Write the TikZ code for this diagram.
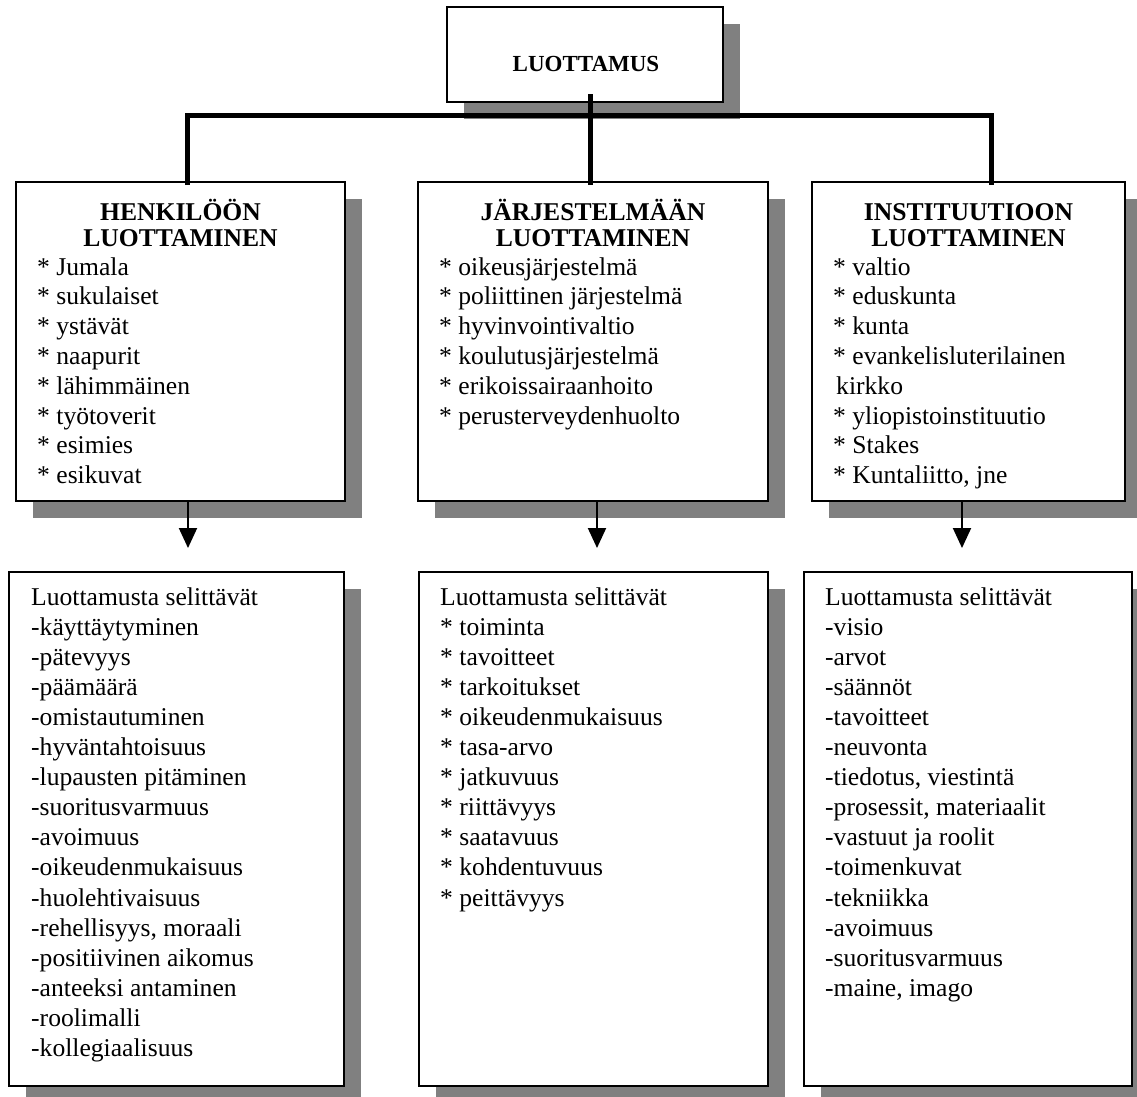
\documentclass[tikz,border=0pt]{standalone}
\usepackage{fontspec}
\setmainfont{Liberation Serif}
\usetikzlibrary{shadows,arrows.meta}
\definecolor{shadowgray}{RGB}{128,128,128}
\newcommand{\bodyfont}{\fontsize{25.6pt}{29.8pt}\selectfont}
\newcommand{\headfont}{\fontsize{25.6pt}{26pt}\selectfont\bfseries}
\newcommand{\lines}[1]{\begin{tabular}[t]{@{}l@{}}#1\end{tabular}}
\newcommand{\headlines}[1]{\begin{tabular}[t]{@{}c@{}}#1\end{tabular}}
% bullet star at the start of a list line
\newcommand{\st}{{*}\ }
\begin{document}
\begin{tikzpicture}[x=1pt,y=-1pt,
  panel/.style={draw=black, line width=2pt, fill=white, inner sep=0pt, outer sep=0pt,
    anchor=north west,
    drop shadow={shadow xshift=17pt, shadow yshift=-17pt, fill=shadowgray, opacity=1}},
  bar/.style={draw=black, line width=5pt},
  arrowline/.style={draw=black, line width=2pt, -{Triangle[length=20pt,width=18pt]}},
  heading/.style={anchor=base, inner sep=0pt, font=\headfont},
  items/.style={anchor=base west, inner sep=0pt, font=\bodyfont},
  factors/.style={items, font=\fontsize{25.6pt}{30.1pt}\selectfont},
]
\useasboundingbox (0,0) rectangle (1137,1096);

% top box
\node[panel, minimum width=276pt, minimum height=95pt] (top) at (447,7) {};
\node[anchor=base, inner sep=0pt, font=\fontsize{23pt}{27pt}\selectfont\bfseries] (toplabel) at (586,71) {LUOTTAMUS};

% three trust categories
\node[panel, minimum width=329pt, minimum height=319pt] (b1) at (16,182) {};
\node[panel, minimum width=350pt, minimum height=319pt] (b2) at (418,182) {};
\node[panel, minimum width=313pt, minimum height=319pt] (b3) at (812,182) {};

\node[heading] (h1) at (180.5,220) {\headlines{HENKILÖÖN\\LUOTTAMINEN}};
\node[heading] (h2) at (593,220) {\headlines{JÄRJESTELMÄÄN\\LUOTTAMINEN}};
\node[heading] (h3) at (968.5,220) {\headlines{INSTITUUTIOON\\LUOTTAMINEN}};

\node[items] (l1) at (37,275) {\lines{\st Jumala\\\st sukulaiset\\\st ystävät\\\st naapurit\\\st lähimmäinen\\\st työtoverit\\\st esimies\\\st esikuvat}};
\node[items] (l2) at (439,275) {\lines{\st oikeusjärjestelmä\\\st poliittinen järjestelmä\\\st hyvinvointivaltio\\\st koulutusjärjestelmä\\\st erikoissairaanhoito\\\st perusterveydenhuolto}};
\node[items] (l3) at (833,275) {\lines{\st valtio\\\st eduskunta\\\st kunta\\\st evankelisluterilainen\\\hspace*{3pt}kirkko\\\st yliopistoinstituutio\\\st Stakes\\\st Kuntaliitto, jne}};

% explaining factors
\node[panel, minimum width=335pt, minimum height=514pt] (c1) at (9,572) {};
\node[panel, minimum width=349pt, minimum height=514pt] (c2) at (419,572) {};
\node[panel, minimum width=328pt, minimum height=514pt] (c3) at (804,572) {};

\node[factors] (m1) at (31,605) {\lines{Luottamusta selittävät\\-käyttäytyminen\\-pätevyys\\-päämäärä\\-omistautuminen\\-hyväntahtoisuus\\-lupausten pitäminen\\-suoritusvarmuus\\-avoimuus\\-oikeudenmukaisuus\\-huolehtivaisuus\\-rehellisyys, moraali\\-positiivinen aikomus\\-anteeksi antaminen\\-roolimalli\\-kollegiaalisuus}};
\node[factors] (m2) at (440,605) {\lines{Luottamusta selittävät\\\st toiminta\\\st tavoitteet\\\st tarkoitukset\\\st oikeudenmukaisuus\\\st tasa-arvo\\\st jatkuvuus\\\st riittävyys\\\st saatavuus\\\st kohdentuvuus\\\st peittävyys}};
\node[factors] (m3) at (825,605) {\lines{Luottamusta selittävät\\-visio\\-arvot\\-säännöt\\-tavoitteet\\-neuvonta\\-tiedotus, viestintä\\-prosessit, materiaalit\\-vastuut ja roolit\\-toimenkuvat\\-tekniikka\\-avoimuus\\-suoritusvarmuus\\-maine, imago}};

% branching connector
\coordinate (hub) at (590,115);
\draw[bar] ([xshift=6.5pt,yshift=-3pt]b1.north) |- (hub) -| ([xshift=22.5pt,yshift=-3pt]b3.north);
\draw[bar] ([xshift=5pt,yshift=8pt]top.south) -- ([xshift=-3pt,yshift=-3pt]b2.north);

% arrows towards the explaining factors
\coordinate (t1) at (188,548);
\coordinate (t2) at (597,548);
\coordinate (t3) at (962,548);
\draw[arrowline] ([xshift=7.5pt]b1.south) -- (t1);
\draw[arrowline] ([xshift=4pt]b2.south) -- (t2);
\draw[arrowline] ([xshift=-6.5pt]b3.south) -- (t3);
\end{tikzpicture}
\end{document}
